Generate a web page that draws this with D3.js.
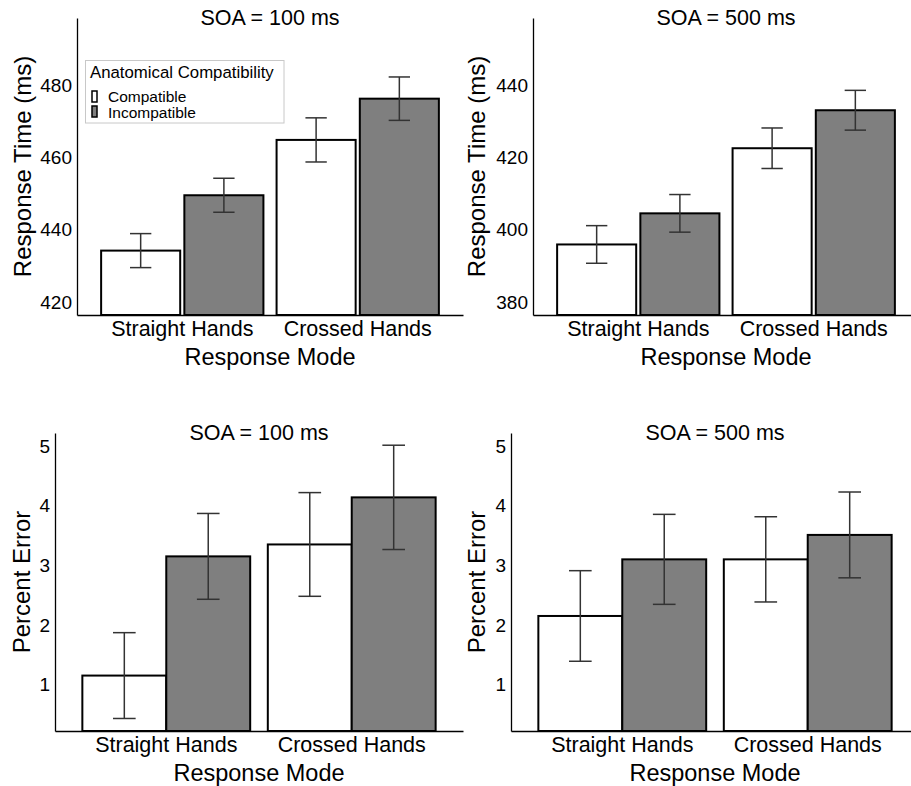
<!DOCTYPE html>
<meta charset="utf-8">
<style>
body { margin: 0; background: #fff; }
text { font-family: "Liberation Sans", Arial, Helvetica, sans-serif; fill: #000; }
.axis path { stroke: #000; stroke-width: 1.3; }
.axis line { display: none; }
</style>
<svg width="911" height="786"></svg>
<script src="https://d3js.org/d3.v7.min.js"></script>
<script>

// categories and groups
var modes = ["Straight Hands", "Crossed Hands"];
var compat = ["Compatible", "Incompatible"];

// response time, SOA = 100 ms  (order: Straight, Crossed)
var rt100Comp = [434.2, 464.8];
var rt100Incomp = [449.5, 476.2];
var rt100CompSE = [4.7, 6.1];
var rt100IncompSE = [4.7, 6.0];

// response time, SOA = 500 ms
var rt500Comp = [395.9, 422.5];
var rt500Incomp = [404.5, 433.0];
var rt500CompSE = [5.2, 5.6];
var rt500IncompSE = [5.2, 5.5];

// percent error, SOA = 100 ms
var pe100Comp = [1.15, 3.35];
var pe100Incomp = [3.15, 4.14];
var pe100CompSE = [0.72, 0.87];
var pe100IncompSE = [0.72, 0.875];

// percent error, SOA = 500 ms
var pe500Comp = [2.15, 3.10];
var pe500Incomp = [3.10, 3.51];
var pe500CompSE = [0.76, 0.715];
var pe500IncompSE = [0.755, 0.72];

var rt100Ticks = [420, 440, 460, 480];
var rt500Ticks = [380, 400, 420, 440];
var peTicks = [1, 2, 3, 4, 5];

var fills = {"Compatible": "#ffffff", "Incompatible": "#7f7f7f"};

var svg = d3.select("svg");
svg.append("rect").attr("width", 911).attr("height", 786).attr("fill", "#fff");

function rows(comp, incomp, compSE, incompSE) {
  var out = [];
  modes.forEach(function(m, i) {
    out.push({mode: m, grp: "Compatible", v: comp[i], se: compSE[i]});
    out.push({mode: m, grp: "Incompatible", v: incomp[i], se: incompSE[i]});
  });
  return out;
}

function panel(o) {
  var g = svg.append("g");

  var x0 = d3.scaleBand()
    .domain(modes)
    .range([o.left, o.right])
    .paddingInner(0.1)
    .paddingOuter(0.15);

  var gw = o.groupFrac * x0.step();
  var x1 = d3.scaleBand()
    .domain(compat)
    .range([-gw / 2, gw / 2])
    .paddingInner(o.barGap);

  var y = d3.scaleLinear().domain(o.domain).range([o.bottom, o.top]);

  // bars
  g.selectAll("rect.bar")
    .data(o.data)
    .enter().append("rect")
      .attr("class", "bar")
      .attr("x", function(d) { return x0(d.mode) + x0.bandwidth() / 2 + x1(d.grp); })
      .attr("y", function(d) { return y(d.v); })
      .attr("width", x1.bandwidth())
      .attr("height", function(d) { return o.bottom - y(d.v); })
      .attr("fill", function(d) { return fills[d.grp]; })
      .attr("stroke", "#000")
      .attr("stroke-width", 2);

  // error bars
  var cap = 0.27 * x1.bandwidth();
  var eb = g.selectAll("g.err")
    .data(o.data)
    .enter().append("g")
      .attr("class", "err")
      .attr("stroke", "#333")
      .attr("stroke-width", 1.5)
      .attr("transform", function(d) {
        return "translate(" + (x0(d.mode) + x0.bandwidth() / 2 + x1(d.grp) + x1.bandwidth() / 2) + ",0)";
      });
  eb.append("line")
    .attr("y1", function(d) { return y(d.v + d.se); })
    .attr("y2", function(d) { return y(d.v - d.se); });
  eb.append("line")
    .attr("x1", -cap / 2).attr("x2", cap / 2)
    .attr("y1", function(d) { return y(d.v + d.se); })
    .attr("y2", function(d) { return y(d.v + d.se); });
  eb.append("line")
    .attr("x1", -cap / 2).attr("x2", cap / 2)
    .attr("y1", function(d) { return y(d.v - d.se); })
    .attr("y2", function(d) { return y(d.v - d.se); });

  // axes
  g.append("g")
    .attr("class", "axis")
    .attr("transform", "translate(" + o.left + ",0)")
    .call(d3.axisLeft(y).tickValues(o.ticks).tickFormat(d3.format("d"))
      .tickSize(0).tickPadding(5).tickSizeOuter(0))
    .selectAll("text")
      .attr("font-size", 19)
      .attr("fill", "#000");

  g.append("g")
    .attr("class", "axis")
    .attr("transform", "translate(0," + o.bottom + ")")
    .call(d3.axisBottom(x0).tickSize(0).tickPadding(6).tickSizeOuter(0))
    .selectAll("text")
      .attr("font-size", 21.5)
      .attr("fill", "#000");

  g.selectAll(".axis").attr("font-family", null);

  // titles
  g.append("text")
    .attr("x", (o.left + o.right) / 2)
    .attr("y", o.top + 7)
    .attr("text-anchor", "middle")
    .attr("font-size", 21.5)
    .text(o.title);

  g.append("text")
    .attr("x", (o.left + o.right) / 2)
    .attr("y", o.bottom + 50)
    .attr("text-anchor", "middle")
    .attr("font-size", 23.5)
    .text("Response Mode");

  g.append("text")
    .attr("transform", "translate(" + o.ylabX + "," + ((o.top + o.bottom) / 2) + ") rotate(-90)")
    .attr("text-anchor", "middle")
    .attr("font-size", 24)
    .text(o.ylab);
}

panel({
  left: 77, right: 463, top: 18, bottom: 315,
  domain: [416.4, 498.5], ticks: rt100Ticks,
  data: rows(rt100Comp, rt100Incomp, rt100CompSE, rt100IncompSE),
  groupFrac: 0.925, barGap: 0.05,
  title: "SOA = 100 ms", ylab: "Response Time (ms)", ylabX: 31
});

panel({
  left: 533, right: 919, top: 18, bottom: 315,
  domain: [376.4, 458.5], ticks: rt500Ticks,
  data: rows(rt500Comp, rt500Incomp, rt500CompSE, rt500IncompSE),
  groupFrac: 0.925, barGap: 0.05,
  title: "SOA = 500 ms", ylab: "Response Time (ms)", ylabX: 485
});

panel({
  left: 55, right: 463, top: 433, bottom: 731,
  domain: [0.22, 5.22], ticks: peTicks,
  data: rows(pe100Comp, pe100Incomp, pe100CompSE, pe100IncompSE),
  groupFrac: 0.905, barGap: 0.0,
  title: "SOA = 100 ms", ylab: "Percent Error", ylabX: 30
});

panel({
  left: 511, right: 919, top: 433, bottom: 731,
  domain: [0.22, 5.22], ticks: peTicks,
  data: rows(pe500Comp, pe500Incomp, pe500CompSE, pe500IncompSE),
  groupFrac: 0.905, barGap: 0.0,
  title: "SOA = 500 ms", ylab: "Percent Error", ylabX: 485
});

// legend (top-left panel)
var leg = svg.append("g");
leg.append("rect")
  .attr("x", 85.5).attr("y", 60.5)
  .attr("width", 198.5).attr("height", 62.5)
  .attr("fill", "#fff")
  .attr("stroke", "#c8c8c8")
  .attr("stroke-width", 1);
leg.append("text")
  .attr("x", 90).attr("y", 78)
  .attr("font-size", 16.8)
  .text("Anatomical Compatibility");
compat.forEach(function(c, i) {
  leg.append("rect")
    .attr("x", 92).attr("y", 91 + i * 15)
    .attr("width", 5).attr("height", 11)
    .attr("fill", fills[c])
    .attr("stroke", "#000")
    .attr("stroke-width", 1.5);
  leg.append("text")
    .attr("x", 108).attr("y", 102 + i * 15.5)
    .attr("font-size", 15.5)
    .text(c);
});

</script>
